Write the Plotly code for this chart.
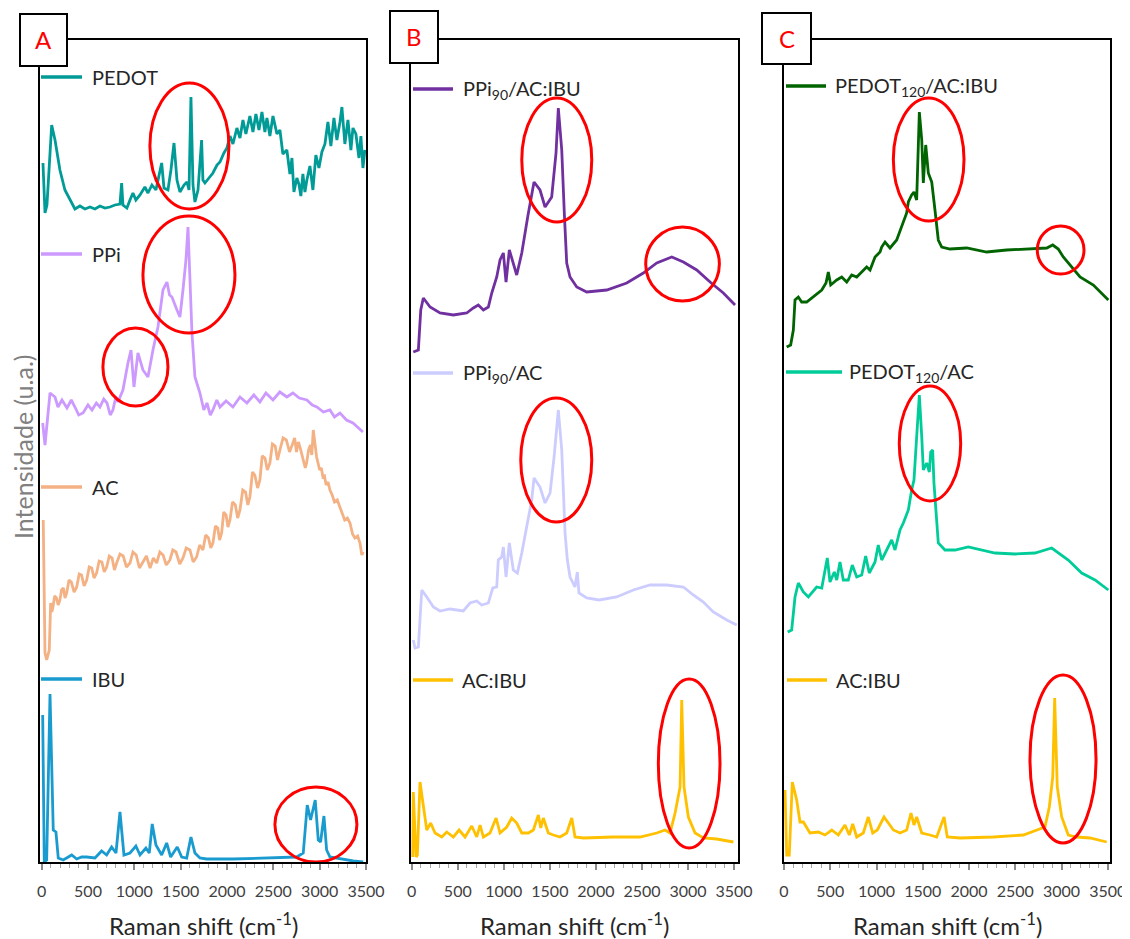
import plotly.graph_objects as go

W, H = 1130, 939          # browser window
PAGE = 8                  # default page margin around the figure
FW, FH = W - PAGE, H - PAGE
FONT = "Lato"

# ---------------- Panel A ----------------
pedot_x = [14, 36, 57, 108, 144, 197, 251, 324, 359, 413, 467, 521, 575, 629, 683, 737, 791, 845, 863, 877,
           920, 953, 985, 1017, 1061, 1114, 1147, 1190, 1233, 1295, 1320, 1363, 1395, 1428, 1460, 1492, 1536, 1568, 1590, 1611,
           1633, 1654, 1687, 1726, 1740, 1762, 1805, 1848, 1892, 1924, 1967, 1999, 2032, 2064, 2107, 2140, 2172, 2204, 2247, 2280,
           2312, 2345, 2377, 2409, 2431, 2463, 2496, 2539, 2571, 2603, 2646, 2679, 2701, 2722, 2754, 2776, 2797, 2819, 2841, 2862,
           2895, 2927, 2959, 2992, 3024, 3057, 3089, 3121, 3154, 3186, 3219, 3240, 3272, 3305, 3337, 3359, 3391, 3424, 3445, 3467, 3488]
pedot_y = [47, -3, 5, 85, 70, 40, 20, 7, 1, 4, 1, 3, 1, 4, 2, 3, 5, 6, 27, 5,
           2, 10, 17, 10, 15, 23, 17, 25, 20, 47, 22, 20, 40, 67, 30, 18, 25, 28, 20, 113,
           25, 8, 20, 70, 30, 27, 32, 37, 45, 48, 57, 62, 74, 66, 82, 72, 90, 76, 94, 78,
           96, 80, 98, 78, 92, 74, 94, 76, 80, 56, 60, 36, 52, 18, 32, 26, 14, 36, 18, 30,
           44, 20, 55, 42, 58, 66, 88, 64, 92, 70, 88, 103, 66, 90, 60, 82, 76, 52, 74, 42, 60]

ppi_x = [11, 36, 90, 144, 176, 219, 273, 320, 359, 400, 446, 500, 543, 590, 629, 670, 705, 740, 769, 800,
         823, 877, 931, 964, 996, 1039, 1093, 1147, 1201, 1255, 1309, 1352, 1380, 1406, 1460, 1492, 1525, 1557, 1579, 1600,
         1622, 1654, 1708, 1750, 1784, 1820, 1848, 1890, 1924, 1990, 2064, 2140, 2215, 2290, 2355, 2420, 2496, 2570, 2646, 2711,
         2780, 2862, 2920, 2970, 3040, 3111, 3160, 3219, 3290, 3359, 3420, 3467]
ppi_y = [22, 0, 52, 48, 38, 45, 37, 45, 38, 30, 32, 40, 35, 42, 38, 46, 42, 30, 35, 48,
         43, 55, 82, 95, 58, 92, 75, 68, 95, 118, 155, 163, 150, 148, 135, 128, 155, 185, 218, 170,
         112, 68, 52, 35, 42, 30, 35, 45, 38, 44, 38, 48, 42, 50, 43, 52, 45, 53, 48, 52,
         47, 45, 40, 38, 33, 35, 28, 32, 25, 22, 17, 13]

ac_x = [17, 36, 54, 82, 97, 110, 122, 140, 160, 178, 197, 215, 235, 252, 270, 295, 320, 350, 378, 405,
        430, 458, 486, 513, 540, 565, 593, 620, 650, 675, 701, 730, 760, 785, 809, 845, 880, 915, 953, 985,
        1020, 1055, 1093, 1130, 1170, 1205, 1241, 1275, 1310, 1345, 1384, 1415, 1450, 1490, 1525, 1560, 1600, 1635, 1672, 1705,
        1740, 1770, 1800, 1825, 1848, 1875, 1900, 1920, 1942, 1965, 1990, 2010, 2032, 2060, 2090, 2115, 2140, 2170, 2200, 2225,
        2247, 2275, 2300, 2330, 2355, 2380, 2410, 2435, 2463, 2490, 2520, 2545, 2571, 2605, 2640, 2675, 2711, 2730, 2750, 2770,
        2787, 2810, 2830, 2845, 2859, 2880, 2900, 2915, 2931, 2950, 2967, 2985, 3000, 3018, 3035, 3052, 3070, 3090, 3111, 3135,
        3160, 3190, 3219, 3245, 3270, 3300, 3327, 3355, 3380, 3410, 3435, 3455, 3470]
ac_y = [140, 7, 0, 10, 57, 48, 53, 64, 62, 55, 60, 70, 72, 62, 67, 80, 78, 68, 73, 86,
        85, 74, 80, 93, 92, 82, 87, 99, 98, 88, 93, 104, 102, 90, 97, 106, 104, 93, 97, 108,
        105, 92, 98, 104, 92, 102, 97, 108, 105, 95, 100, 110, 108, 96, 102, 112, 110, 98, 103, 115,
        110, 125, 122, 112, 117, 134, 132, 120, 127, 148, 145, 133, 140, 158, 155, 142, 150, 170, 168, 155,
        163, 188, 185, 172, 180, 204, 202, 190, 197, 216, 214, 200, 210, 222, 220, 208, 217, 222, 208, 218,
        213, 205, 200, 192, 197, 210, 215, 205, 230, 212, 203, 196, 190, 192, 183, 184, 175, 178, 170, 165,
        158, 160, 153, 146, 140, 142, 137, 126, 122, 124, 117, 105, 108]

ibu_x = [11, 28, 54, 90, 125, 154, 179, 233, 324, 378, 432, 486, 575, 647, 701, 755, 802, 845, 888, 953,
         1017, 1061, 1125, 1161, 1193, 1233, 1295, 1349, 1392, 1463, 1511, 1565, 1611, 1654, 1708, 1780, 2064, 2428, 2644, 2752,
         2823, 2866, 2902, 2952, 2985, 3010, 3046, 3075, 3111, 3219, 3362, 3470]
ibu_y = [147, 0, 2, 168, 32, 30, 4, 2, 7, 3, 5, 5, 4, 11, 7, 15, 9, 50, 7, 9,
         16, 7, 14, 9, 38, 17, 7, 19, 5, 15, 5, 4, 25, 9, 4, 3, 3, 4, 5, 5,
         9, 57, 42, 62, 22, 20, 46, 12, 5, 3, 1, 0]

# ---------------- Panel B ----------------
ppi90_acibu_x = [17, 72, 98, 126, 199, 307, 452, 597, 669, 723, 778, 832, 869, 923, 959, 995, 1024, 1060, 1140, 1195,
                 1263, 1328, 1393, 1448, 1520, 1567, 1592, 1629, 1657, 1683, 1719, 1792, 1900, 2118, 2335, 2515, 2661, 2824, 2950, 3095,
                 3240, 3384, 3511]
ppi90_acibu_y = [0, 2, 42, 54, 45, 39, 37, 39, 44, 47, 42, 45, 59, 75, 92, 99, 70, 102, 77, 99,
                 137, 170, 162, 145, 155, 199, 244, 202, 139, 89, 75, 65, 60, 62, 69, 79, 89, 95, 90, 82,
                 70, 59, 47]

ppi90_ac_x = [17, 36, 72, 109, 163, 235, 307, 416, 560, 633, 706, 760, 832, 880, 923, 940, 977, 995, 1024, 1060,
              1103, 1147, 1195, 1249, 1303, 1328, 1393, 1448, 1502, 1546, 1592, 1629, 1665, 1690, 1719, 1773, 1798, 1816, 1900, 2035,
              2226, 2407, 2588, 2769, 2950, 3058, 3167, 3275, 3421, 3530]
ppi90_ac_y = [8, 0, 1, 58, 51, 41, 37, 39, 37, 45, 47, 43, 45, 60, 61, 88, 91, 101, 71, 105,
              78, 75, 95, 121, 148, 170, 161, 145, 155, 191, 238, 198, 115, 88, 71, 61, 76, 55, 50, 48,
              51, 58, 63, 63, 61, 53, 46, 36, 28, 23]

acibu_b_x = [11, 17, 47, 61, 90, 126, 163, 206, 253, 326, 380, 452, 514, 579, 652, 706, 742, 778, 850, 916,
             959, 1032, 1086, 1140, 1195, 1266, 1321, 1375, 1401, 1429, 1483, 1538, 1610, 1683, 1738, 1773, 1864, 2189, 2479, 2661,
             2751, 2805, 2860, 2914, 2932, 2957, 3004, 3077, 3167, 3312, 3493]
acibu_b_y = [5, 70, 5, 7, 80, 55, 32, 39, 29, 25, 30, 25, 32, 25, 36, 25, 37, 25, 29, 44,
             29, 35, 44, 39, 29, 29, 32, 47, 34, 44, 29, 27, 25, 29, 44, 25, 24, 25, 25, 29,
             32, 29, 49, 75, 162, 75, 45, 29, 24, 23, 20]

# ---------------- Panel C ----------------
pedot120_acibu_x = [29, 72, 101, 119, 155, 191, 245, 317, 408, 454, 479, 505, 570, 624, 678, 732, 786, 840, 894, 930,
                    984, 1038, 1056, 1092, 1146, 1218, 1272, 1326, 1344, 1380, 1405, 1434, 1463, 1489, 1506, 1532, 1560, 1597, 1632, 1668,
                    1705, 1794, 1975, 2191, 2407, 2624, 2840, 2905, 2965, 3019, 3092, 3200, 3344, 3506]
pedot120_acibu_y = [0, 2, 17, 47, 50, 45, 45, 50, 57, 64, 75, 62, 67, 70, 65, 72, 70, 75, 80, 77,
                    90, 95, 100, 105, 99, 107, 120, 134, 145, 152, 155, 147, 235, 207, 164, 202, 174, 165, 137, 107,
                    100, 98, 99, 95, 97, 98, 99, 102, 98, 90, 82, 70, 62, 47]

pedot120_ac_x = [40, 83, 119, 155, 209, 263, 353, 408, 468, 497, 544, 570, 605, 641, 695, 738, 786, 840, 883, 922,
                 984, 1019, 1056, 1110, 1164, 1200, 1254, 1290, 1344, 1380, 1405, 1434, 1463, 1489, 1506, 1543, 1571, 1586, 1607, 1621,
                 1651, 1668, 1740, 1849, 1992, 2137, 2281, 2497, 2713, 2894, 2965, 3073, 3218, 3362, 3506]
pedot120_ac_y = [0, 2, 35, 49, 40, 35, 45, 44, 74, 50, 60, 52, 70, 52, 52, 67, 55, 57, 76, 59,
                 70, 87, 72, 82, 92, 82, 102, 109, 122, 142, 152, 195, 237, 195, 162, 169, 160, 180, 182, 149,
                 105, 89, 82, 82, 85, 82, 79, 78, 79, 84, 79, 72, 59, 52, 42]

acibu_c_x = [11, 29, 57, 90, 137, 173, 209, 281, 371, 443, 516, 587, 659, 706, 743, 786, 857, 911, 959, 1009,
             1081, 1128, 1182, 1254, 1326, 1373, 1405, 1434, 1489, 1578, 1651, 1730, 1765, 1903, 2263, 2587, 2732, 2821, 2868, 2905,
             2926, 2954, 3002, 3073, 3164, 3308, 3488]
acibu_c_y = [72, 7, 7, 80, 62, 40, 40, 29, 30, 27, 32, 27, 37, 27, 38, 25, 29, 45, 29, 32,
             45, 39, 32, 29, 32, 49, 37, 45, 29, 27, 25, 45, 25, 24, 25, 27, 32, 35, 55, 85,
             164, 75, 45, 27, 25, 24, 20]

tick_values = [0, 500, 1000, 1500, 2000, 2500, 3000, 3500]

# vertical stacking offsets (u.a.)
offsets = {
    "PEDOT": 652, "PPi": 417, "AC": 202, "IBU": 0,
    "PPi90/AC:IBU": 510, "PPi90/AC": 214, "AC:IBU (B)": 0,
    "PEDOT120/AC:IBU": 515, "PEDOT120/AC": 230, "AC:IBU (C)": 0,
}

series = [
    # name, x, y, color, panel, label text, legend line px (x0,x1,y), text x
    ("PEDOT", pedot_x, pedot_y, "#009B96", 1, "PEDOT", (41, 82, 77), 90),
    ("PPi", ppi_x, ppi_y, "#CC99FF", 1, "PPi", (41, 82, 254), 90),
    ("AC", ac_x, ac_y, "#F4B183", 1, "AC", (41, 82, 487), 90),
    ("IBU", ibu_x, ibu_y, "#1A9BCF", 1, "IBU", (41, 82, 679), 90),
    ("PPi90/AC:IBU", ppi90_acibu_x, ppi90_acibu_y, "#7030A0", 2, "PPi<sub>90</sub>/AC:IBU", (413, 453, 89), 461),
    ("PPi90/AC", ppi90_ac_x, ppi90_ac_y, "#CCCCFF", 2, "PPi<sub>90</sub>/AC", (413, 453, 373), 461),
    ("AC:IBU (B)", acibu_b_x, acibu_b_y, "#FFC000", 2, "AC:IBU", (413, 453, 680), 460),
    ("PEDOT120/AC:IBU", pedot120_acibu_x, pedot120_acibu_y, "#006400", 3, "PEDOT<sub>120</sub>/AC:IBU", (786, 826, 86), 833),
    ("PEDOT120/AC", pedot120_ac_x, pedot120_ac_y, "#00CC99", 3, "PEDOT<sub>120</sub>/AC", (786, 842, 372), 847),
    ("AC:IBU (C)", acibu_c_x, acibu_c_y, "#FFC000", 3, "AC:IBU", (787, 827, 680), 834),
]

# highlighted regions (cm-1 range, intensity range) per panel
ellipses = [
    (1, 1168, 2021, 653, 779), (1, 1093, 2086, 529, 646), (1, 661, 1363, 456, 534), (1, 2517, 3402, 0, 75),
    (2, 1195, 1955, 640, 764), (2, 2541, 3341, 561, 635), (2, 1184, 1955, 340, 464), (2, 2678, 3348, 14, 183),
    (3, 1182, 1946, 641, 764), (3, 2738, 3243, 588, 636), (3, 1246, 1910, 361, 476), (3, 2659, 3373, 19, 187),
]

panels = {
    1: dict(dom=(40, 366), rng=(-18, 3500), letter="A", box=(20, 67, 14, 66)),
    2: dict(dom=(411, 737.7), rng=(-8, 3540), letter="B", box=(390, 438, 11, 63)),
    3: dict(dom=(784, 1110), rng=(0, 3524), letter="C", box=(762, 811, 13, 64)),
}


def px(v):
    return (v - PAGE) / FW


def py(v):
    return 1 - (v - PAGE) / FH


fig = go.Figure()
shapes = []
annotations = []

for name, xs, ys, color, p, label, (lx0, lx1, ly), tx in series:
    sfx = "" if p == 1 else str(p)
    off = offsets[name]
    n = min(len(xs), len(ys))
    fig.add_trace(go.Scatter(
        x=xs[:n], y=[v + off for v in ys[:n]], mode="lines", name=name,
        line=dict(color=color, width=2.8), xaxis="x" + sfx, yaxis="y" + sfx,
        showlegend=False, hoverinfo="skip"))
    shapes.append(dict(type="line", xref="paper", yref="paper", x0=px(lx0), x1=px(lx1), y0=py(ly), y1=py(ly),
                       line=dict(color=color, width=3.5)))
    annotations.append(dict(text=label, xref="paper", yref="paper", x=px(tx), y=py(ly), xanchor="left",
                            yanchor="middle", showarrow=False, font=dict(family=FONT, size=20, color="#262626")))

for p, x0, x1, y0, y1 in ellipses:
    sfx = "" if p == 1 else str(p)
    shapes.append(dict(type="circle", xref="x" + sfx, yref="y" + sfx, x0=x0, x1=x1, y0=y0, y1=y1,
                       line=dict(color="#FF0000", width=3), layer="above"))

ydom = (py(862), py(40))
for p, cfg in panels.items():
    sfx = "" if p == 1 else str(p)
    d0, d1 = cfg["dom"]
    fig.update_layout(**{
        "xaxis" + sfx: dict(
            domain=[px(d0), px(d1)], range=list(cfg["rng"]), anchor="y" + sfx,
            automargin=False, ticklabeloverflow="allow",
            tickmode="array", tickvals=tick_values,
            ticks="outside", ticklen=6, tickwidth=1.5, tickcolor="#8C8C8C",
            minor=dict(dtick=100, ticks="outside", ticklen=4, tickcolor="#A6A6A6", tickwidth=1),
            ticklabelstandoff=8,
            tickfont=dict(family=FONT, size=16, color="#404040"),
            showline=True, linecolor="black", linewidth=2, mirror=True,
            showgrid=False, zeroline=False),
        "yaxis" + sfx: dict(
            domain=list(ydom), range=[0, 822], anchor="x" + sfx, automargin=False,
            showticklabels=False, ticks="", showline=True, linecolor="black", linewidth=2,
            mirror=True, showgrid=False, zeroline=False),
    })
    bx0, bx1, by0, by1 = cfg["box"]
    shapes.append(dict(type="rect", xref="paper", yref="paper", x0=px(bx0), x1=px(bx1), y0=py(by1), y1=py(by0),
                       fillcolor="white", line=dict(color="black", width=2), layer="above"))
    annotations.append(dict(text=cfg["letter"], xref="paper", yref="paper", x=px((bx0 + bx1) / 2),
                            y=py((by0 + by1) / 2), xanchor="center", yanchor="middle", showarrow=False,
                            font=dict(family=FONT, size=24, color="#FF0000")))
    annotations.append(dict(text="Raman shift (cm<sup>-1</sup>)", xref="paper", yref="paper",
                            x=px((d0 + d1) / 2), y=py(924), xanchor="center", yanchor="middle",
                            showarrow=False, font=dict(family=FONT, size=24, color="#262626")))

annotations.append(dict(text="Intensidade (u.a.)", xref="paper", yref="paper", x=px(23), y=py(447),
                        xanchor="center", yanchor="middle", textangle=-90, showarrow=False,
                        font=dict(family=FONT, size=25, color="#808080")))

fig.update_layout(
    width=FW, height=FH, margin=dict(l=0, r=0, t=0, b=0, autoexpand=False),
    paper_bgcolor="white", plot_bgcolor="white",
    shapes=shapes, annotations=annotations, showlegend=False,
)

fig.write_html("out.html")
